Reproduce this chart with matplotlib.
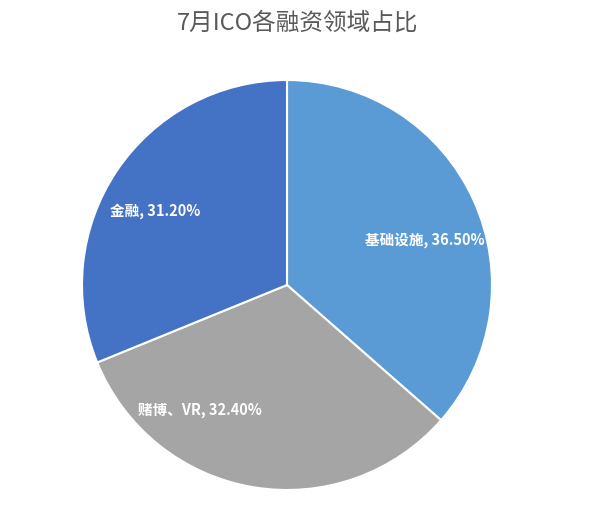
import matplotlib.pyplot as plt
import numpy as np

plt.rcParams['font.family'] = ['Noto Sans CJK SC', 'DejaVu Sans']

# data
categories = ['基础设施', '赌博、VR', '金融']
shares = [36.50, 32.40, 31.20]
colors = ['#5b9bd5', '#a5a5a5', '#4472c4']
title = '7月ICO各融资领域占比'

fig = plt.figure(figsize=(6, 5.07), dpi=100)
fig.patch.set_facecolor('white')

# pie box: center ~ (287, 285) px, radius ~205 px
ax = fig.add_axes([82 / 600, (507 - 285 - 205) / 507, 410 / 600, 410 / 507])
wedges, _ = ax.pie(shares, colors=colors, startangle=90, counterclock=False,
                   radius=1.0, wedgeprops=dict(edgecolor='white', linewidth=1.5))
ax.set_xlim(-1, 1)
ax.set_ylim(-1, 1)
ax.set_aspect('equal')
ax.axis('off')

# label spots (in pie radius units), like the excel layout
label_xy = [(0.673, 0.22), (-0.424, -0.61), (-0.644, 0.361)]
for (x, y), cat, val in zip(label_xy, categories, shares):
    ax.text(x, y, f'{cat}, {val:.2f}%', color='white', fontsize=10.5,
            fontweight='bold', ha='center', va='center')

fig.text(298 / 600, 1 - 23 / 507, title, ha='center', va='center',
         fontsize=17, color='#595959')

fig.savefig('out.png', dpi=100)
